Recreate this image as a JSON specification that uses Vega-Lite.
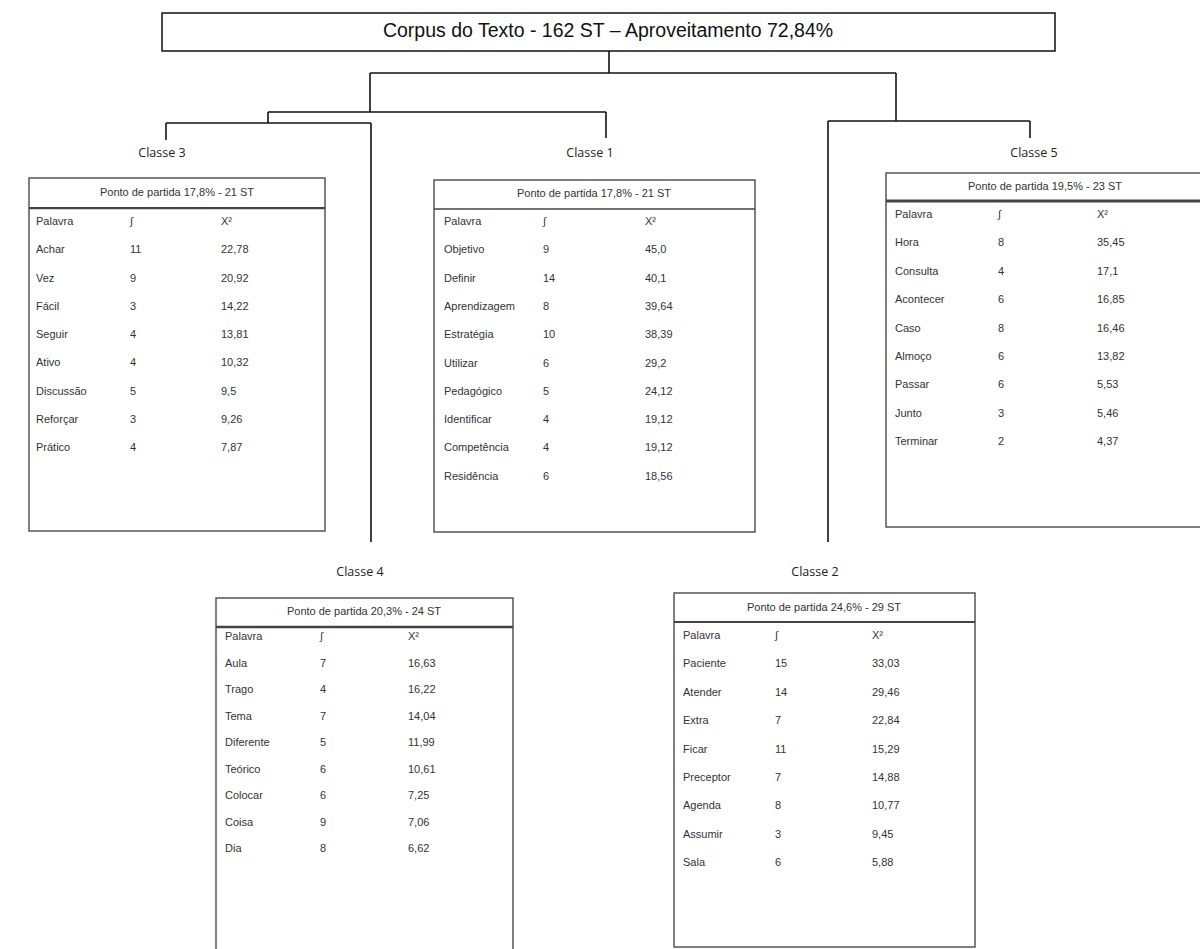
{
  "$schema": "https://vega.github.io/schema/vega-lite/v6.json",
  "width": 1200,
  "height": 949,
  "padding": 0,
  "autosize": {"type": "none"},
  "background": "white",
  "config": {"view": {"stroke": null}},
  "datasets": {
    "titulo": [{"texto": "Corpus do Texto - 162 ST – Aproveitamento 72,84%", "x0": 162, "x1": 1055, "y0": 13, "y1": 51, "cx": 608, "cy": 31}],
    "linhas": [
      {"xa": 609, "ya": 51, "xb": 609, "yb": 73},
      {"xa": 370, "ya": 73, "xb": 896, "yb": 73},
      {"xa": 370, "ya": 73, "xb": 370, "yb": 112},
      {"xa": 268, "ya": 112, "xb": 606, "yb": 112},
      {"xa": 606, "ya": 112, "xb": 606, "yb": 138},
      {"xa": 268, "ya": 112, "xb": 268, "yb": 123},
      {"xa": 166, "ya": 123, "xb": 371, "yb": 123},
      {"xa": 166, "ya": 123, "xb": 166, "yb": 140},
      {"xa": 371, "ya": 123, "xb": 371, "yb": 542},
      {"xa": 896, "ya": 73, "xb": 896, "yb": 121},
      {"xa": 828, "ya": 121, "xb": 1030, "yb": 121},
      {"xa": 1030, "ya": 121, "xb": 1030, "yb": 138},
      {"xa": 828, "ya": 121, "xb": 828, "yb": 542}
    ],
    "layout": [
      {"classe": "Classe 3", "lx": 162, "ly": 153, "x0": 29, "x1": 325, "y0": 178, "yh": 208, "y1": 531, "hx": 177, "hy": 193, "c1": 36, "c2": 130, "c3": 221, "r0": 222, "passo": 28.25, "cabecalho": "Ponto de partida 17,8% - 21 ST"},
      {"classe": "Classe 1", "lx": 590, "ly": 153, "x0": 434, "x1": 755, "y0": 180, "yh": 209, "y1": 532, "hx": 594, "hy": 194, "c1": 444, "c2": 543, "c3": 645, "r0": 222, "passo": 28.3, "cabecalho": "Ponto de partida 17,8% - 21 ST"},
      {"classe": "Classe 5", "lx": 1034, "ly": 153, "x0": 886, "x1": 1205, "y0": 173, "yh": 201, "y1": 527, "hx": 1045, "hy": 187, "c1": 895, "c2": 998, "c3": 1097, "r0": 215, "passo": 28.4, "cabecalho": "Ponto de partida 19,5% - 23 ST"},
      {"classe": "Classe 4", "lx": 360, "ly": 572, "x0": 216, "x1": 513, "y0": 598, "yh": 627, "y1": 962, "hx": 364, "hy": 612, "c1": 225, "c2": 320, "c3": 408, "r0": 637, "passo": 26.5, "cabecalho": "Ponto de partida 20,3% - 24 ST"},
      {"classe": "Classe 2", "lx": 815, "ly": 572, "x0": 674, "x1": 975, "y0": 593, "yh": 622, "y1": 947, "hx": 824, "hy": 608, "c1": 683, "c2": 775, "c3": 872, "r0": 636, "passo": 28.4, "cabecalho": "Ponto de partida 24,6% - 29 ST"}
    ],
    "palavras": [
      {"classe": "Classe 3", "ordem": 0, "palavra": "Palavra", "freq": "∫", "chi": "X²"},
      {"classe": "Classe 3", "ordem": 1, "palavra": "Achar", "freq": 11, "chi": "22,78"},
      {"classe": "Classe 3", "ordem": 2, "palavra": "Vez", "freq": 9, "chi": "20,92"},
      {"classe": "Classe 3", "ordem": 3, "palavra": "Fácil", "freq": 3, "chi": "14,22"},
      {"classe": "Classe 3", "ordem": 4, "palavra": "Seguir", "freq": 4, "chi": "13,81"},
      {"classe": "Classe 3", "ordem": 5, "palavra": "Ativo", "freq": 4, "chi": "10,32"},
      {"classe": "Classe 3", "ordem": 6, "palavra": "Discussão", "freq": 5, "chi": "9,5"},
      {"classe": "Classe 3", "ordem": 7, "palavra": "Reforçar", "freq": 3, "chi": "9,26"},
      {"classe": "Classe 3", "ordem": 8, "palavra": "Prático", "freq": 4, "chi": "7,87"},
      {"classe": "Classe 1", "ordem": 0, "palavra": "Palavra", "freq": "∫", "chi": "X²"},
      {"classe": "Classe 1", "ordem": 1, "palavra": "Objetivo", "freq": 9, "chi": "45,0"},
      {"classe": "Classe 1", "ordem": 2, "palavra": "Definir", "freq": 14, "chi": "40,1"},
      {"classe": "Classe 1", "ordem": 3, "palavra": "Aprendizagem", "freq": 8, "chi": "39,64"},
      {"classe": "Classe 1", "ordem": 4, "palavra": "Estratégia", "freq": 10, "chi": "38,39"},
      {"classe": "Classe 1", "ordem": 5, "palavra": "Utilizar", "freq": 6, "chi": "29,2"},
      {"classe": "Classe 1", "ordem": 6, "palavra": "Pedagógico", "freq": 5, "chi": "24,12"},
      {"classe": "Classe 1", "ordem": 7, "palavra": "Identificar", "freq": 4, "chi": "19,12"},
      {"classe": "Classe 1", "ordem": 8, "palavra": "Competência", "freq": 4, "chi": "19,12"},
      {"classe": "Classe 1", "ordem": 9, "palavra": "Residência", "freq": 6, "chi": "18,56"},
      {"classe": "Classe 5", "ordem": 0, "palavra": "Palavra", "freq": "∫", "chi": "X²"},
      {"classe": "Classe 5", "ordem": 1, "palavra": "Hora", "freq": 8, "chi": "35,45"},
      {"classe": "Classe 5", "ordem": 2, "palavra": "Consulta", "freq": 4, "chi": "17,1"},
      {"classe": "Classe 5", "ordem": 3, "palavra": "Acontecer", "freq": 6, "chi": "16,85"},
      {"classe": "Classe 5", "ordem": 4, "palavra": "Caso", "freq": 8, "chi": "16,46"},
      {"classe": "Classe 5", "ordem": 5, "palavra": "Almoço", "freq": 6, "chi": "13,82"},
      {"classe": "Classe 5", "ordem": 6, "palavra": "Passar", "freq": 6, "chi": "5,53"},
      {"classe": "Classe 5", "ordem": 7, "palavra": "Junto", "freq": 3, "chi": "5,46"},
      {"classe": "Classe 5", "ordem": 8, "palavra": "Terminar", "freq": 2, "chi": "4,37"},
      {"classe": "Classe 4", "ordem": 0, "palavra": "Palavra", "freq": "∫", "chi": "X²"},
      {"classe": "Classe 4", "ordem": 1, "palavra": "Aula", "freq": 7, "chi": "16,63"},
      {"classe": "Classe 4", "ordem": 2, "palavra": "Trago", "freq": 4, "chi": "16,22"},
      {"classe": "Classe 4", "ordem": 3, "palavra": "Tema", "freq": 7, "chi": "14,04"},
      {"classe": "Classe 4", "ordem": 4, "palavra": "Diferente", "freq": 5, "chi": "11,99"},
      {"classe": "Classe 4", "ordem": 5, "palavra": "Teórico", "freq": 6, "chi": "10,61"},
      {"classe": "Classe 4", "ordem": 6, "palavra": "Colocar", "freq": 6, "chi": "7,25"},
      {"classe": "Classe 4", "ordem": 7, "palavra": "Coisa", "freq": 9, "chi": "7,06"},
      {"classe": "Classe 4", "ordem": 8, "palavra": "Dia", "freq": 8, "chi": "6,62"},
      {"classe": "Classe 2", "ordem": 0, "palavra": "Palavra", "freq": "∫", "chi": "X²"},
      {"classe": "Classe 2", "ordem": 1, "palavra": "Paciente", "freq": 15, "chi": "33,03"},
      {"classe": "Classe 2", "ordem": 2, "palavra": "Atender", "freq": 14, "chi": "29,46"},
      {"classe": "Classe 2", "ordem": 3, "palavra": "Extra", "freq": 7, "chi": "22,84"},
      {"classe": "Classe 2", "ordem": 4, "palavra": "Ficar", "freq": 11, "chi": "15,29"},
      {"classe": "Classe 2", "ordem": 5, "palavra": "Preceptor", "freq": 7, "chi": "14,88"},
      {"classe": "Classe 2", "ordem": 6, "palavra": "Agenda", "freq": 8, "chi": "10,77"},
      {"classe": "Classe 2", "ordem": 7, "palavra": "Assumir", "freq": 3, "chi": "9,45"},
      {"classe": "Classe 2", "ordem": 8, "palavra": "Sala", "freq": 6, "chi": "5,88"}
    ]
  },
  "layer": [
    {
      "data": {"name": "linhas"},
      "mark": {"type": "rule", "color": "#111", "strokeWidth": 1.6},
      "encoding": {
        "x": {"field": "xa", "type": "quantitative", "scale": {"domain": [0, 1200], "nice": false, "zero": false}, "axis": null},
        "y": {"field": "ya", "type": "quantitative", "scale": {"domain": [0, 949], "reverse": true, "nice": false, "zero": false}, "axis": null},
        "x2": {"field": "xb"},
        "y2": {"field": "yb"}
      }
    },
    {
      "data": {"name": "titulo"},
      "mark": {"type": "rect", "fill": "white", "stroke": "#111", "strokeWidth": 1.5},
      "encoding": {
        "x": {"field": "x0", "type": "quantitative", "axis": null},
        "x2": {"field": "x1"},
        "y": {"field": "y0", "type": "quantitative", "axis": null},
        "y2": {"field": "y1"}
      }
    },
    {
      "data": {"name": "titulo"},
      "mark": {"type": "text", "font": "Liberation Sans, Arial", "fontSize": 19.5, "color": "#111", "align": "center", "baseline": "middle"},
      "encoding": {
        "x": {"field": "cx", "type": "quantitative", "axis": null},
        "y": {"field": "cy", "type": "quantitative", "axis": null},
        "text": {"field": "texto", "type": "nominal"}
      }
    },
    {
      "data": {"name": "layout"},
      "layer": [
        {
          "mark": {"type": "rect", "fill": "white", "stroke": "#555", "strokeWidth": 1.5},
          "encoding": {
            "x": {"field": "x0", "type": "quantitative", "axis": null},
            "x2": {"field": "x1"},
            "y": {"field": "y0", "type": "quantitative", "axis": null},
            "y2": {"field": "y1"}
          }
        },
        {
          "mark": {"type": "rule", "color": "#444"},
          "encoding": {
            "x": {"field": "x0", "type": "quantitative", "axis": null},
            "x2": {"field": "x1"},
            "y": {"field": "yh", "type": "quantitative", "axis": null},
            "strokeWidth": {"field": "classe", "type": "nominal", "scale": {"domain": ["Classe 1", "Classe 2", "Classe 3", "Classe 4", "Classe 5"], "range": [1.5, 3, 1.5, 1.5, 3]}, "legend": null}
          }
        },
        {
          "mark": {"type": "text", "font": "Liberation Sans, Arial", "fontSize": 11, "color": "#333", "align": "center", "baseline": "middle"},
          "encoding": {
            "x": {"field": "hx", "type": "quantitative", "axis": null},
            "y": {"field": "hy", "type": "quantitative", "axis": null},
            "text": {"field": "cabecalho", "type": "nominal"}
          }
        },
        {
          "mark": {"type": "text", "font": "Open Sans, DejaVu Sans", "fontSize": 12.5, "color": "#222", "align": "center", "baseline": "middle"},
          "encoding": {
            "x": {"field": "lx", "type": "quantitative", "axis": null},
            "y": {"field": "ly", "type": "quantitative", "axis": null},
            "text": {"field": "classe", "type": "nominal"}
          }
        }
      ]
    },
    {
      "data": {"name": "palavras"},
      "transform": [
        {"lookup": "classe", "from": {"data": {"name": "layout"}, "key": "classe", "fields": ["c1", "c2", "c3", "r0", "passo"]}},
        {"calculate": "datum.r0 + datum.ordem * datum.passo", "as": "linha_y"}
      ],
      "layer": [
        {
          "mark": {"type": "text", "font": "Liberation Sans, Arial", "fontSize": 11, "color": "#333", "align": "left", "baseline": "middle"},
          "encoding": {
            "x": {"field": "c1", "type": "quantitative", "axis": null},
            "y": {"field": "linha_y", "type": "quantitative", "axis": null},
            "text": {"field": "palavra", "type": "nominal"}
          }
        },
        {
          "mark": {"type": "text", "font": "Liberation Sans, Arial", "fontSize": 11, "color": "#333", "align": "left", "baseline": "middle"},
          "encoding": {
            "x": {"field": "c2", "type": "quantitative", "axis": null},
            "y": {"field": "linha_y", "type": "quantitative", "axis": null},
            "text": {"field": "freq", "type": "nominal"}
          }
        },
        {
          "mark": {"type": "text", "font": "Liberation Sans, Arial", "fontSize": 11, "color": "#333", "align": "left", "baseline": "middle"},
          "encoding": {
            "x": {"field": "c3", "type": "quantitative", "axis": null},
            "y": {"field": "linha_y", "type": "quantitative", "axis": null},
            "text": {"field": "chi", "type": "nominal"}
          }
        }
      ]
    }
  ]
}
